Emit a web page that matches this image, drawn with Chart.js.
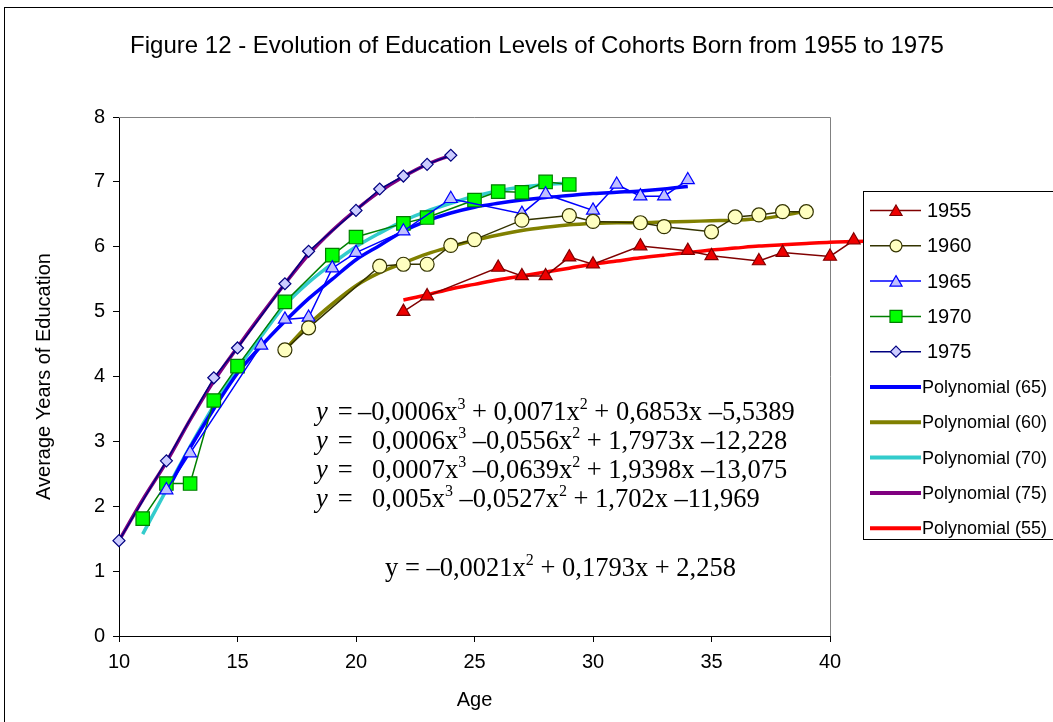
<!DOCTYPE html>
<html><head><meta charset="utf-8">
<script src="https://cdn.jsdelivr.net/npm/chart.js@4.4.0/dist/chart.umd.min.js"></script>
<style>html,body{margin:0;padding:0;background:#fff;}#wrap{width:1053px;height:722px;position:relative;}</style>
</head><body><div id="wrap"><canvas id="c" width="1053" height="722"></canvas></div>
<script>
// ---- Data ----
const title = 'Figure 12 - Evolution of Education Levels of Cohorts Born from 1955 to 1975';
const xTicks = [10, 15, 20, 25, 30, 35, 40];
const yTicks = [0, 1, 2, 3, 4, 5, 6, 7, 8];

const ages1955 = [22, 23, 26, 27, 28, 29, 30, 32, 34, 35, 37, 38, 40, 41];
const vals1955 = [5.00, 5.24, 5.68, 5.55, 5.55, 5.84, 5.73, 6.01, 5.94, 5.86, 5.78, 5.91, 5.85, 6.10];

const ages1960 = [17, 18, 21, 22, 23, 24, 25, 27, 29, 30, 32, 33, 35, 36, 37, 38, 39];
const vals1960 = [4.41, 4.75, 5.70, 5.73, 5.73, 6.02, 6.11, 6.41, 6.48, 6.39, 6.37, 6.31, 6.23, 6.46, 6.49, 6.54, 6.54];

const ages1965 = [12, 13, 16, 17, 18, 19, 20, 22, 24, 27, 28, 30, 31, 32, 33, 34];
const vals1965 = [2.25, 2.82, 4.48, 4.88, 4.91, 5.67, 5.91, 6.24, 6.74, 6.51, 6.81, 6.56, 6.96, 6.78, 6.78, 7.03];

const ages1970 = [11, 12, 13, 14, 15, 17, 19, 20, 22, 23, 25, 26, 27, 28, 29];
const vals1970 = [1.81, 2.35, 2.35, 3.63, 4.16, 5.15, 5.87, 6.15, 6.36, 6.45, 6.72, 6.85, 6.84, 7.00, 6.96];

const ages1975 = [10, 12, 14, 15, 17, 18, 20, 21, 22, 23, 24];
const vals1975 = [1.47, 2.70, 3.98, 4.44, 5.43, 5.93, 6.56, 6.89, 7.09, 7.27, 7.41];

// trend lines
const agesPoly65 = [12, 13, 14, 15, 16, 17, 18, 19, 20, 21, 22, 23, 24, 25, 26, 27, 28, 29, 30, 31, 32, 33, 34];
const valsPoly65 = [2.22, 2.90, 3.50, 4.05, 4.47, 4.85, 5.20, 5.50, 5.80, 6.02, 6.24, 6.40, 6.52, 6.61, 6.67, 6.72, 6.76, 6.79, 6.82, 6.84, 6.86, 6.89, 6.93];

const agesPoly60 = [17, 18, 19, 20, 21, 22, 23, 24, 25, 26, 27, 28, 29, 30, 31, 32, 33, 34, 35, 36, 37, 38, 39];
const valsPoly60 = [4.41, 4.80, 5.12, 5.40, 5.60, 5.75, 5.89, 6.00, 6.10, 6.18, 6.25, 6.30, 6.34, 6.36, 6.37, 6.37, 6.38, 6.39, 6.40, 6.41, 6.43, 6.48, 6.55];

const agesPoly70 = [11, 12, 13, 14, 15, 16, 17, 18, 19, 20, 21, 22, 23, 24, 25, 26, 27, 28, 29];
const valsPoly70 = [1.57, 2.25, 2.92, 3.55, 4.12, 4.62, 5.10, 5.45, 5.74, 6.00, 6.21, 6.40, 6.55, 6.67, 6.78, 6.86, 6.92, 6.96, 6.98];

const agesPoly75 = [10, 11, 12, 13, 14, 15, 16, 17, 18, 19, 20, 21, 22, 23, 24];
const valsPoly75 = [1.47, 2.10, 2.68, 3.33, 3.93, 4.45, 4.95, 5.43, 5.88, 6.25, 6.57, 6.85, 7.08, 7.27, 7.41];

const agesPoly55 = [22, 23, 24, 25, 26, 27, 28, 29, 30, 31, 32, 33, 34, 35, 36, 37, 38, 39, 40, 41, 42];
const valsPoly55 = [5.18, 5.26, 5.35, 5.42, 5.49, 5.55, 5.61, 5.67, 5.73, 5.78, 5.83, 5.87, 5.91, 5.95, 5.98, 6.01, 6.03, 6.05, 6.07, 6.08, 6.09];

const equations = [
  'y = –0,0006x^3 + 0,0071x^2 + 0,6853x –5,5389',
  'y =   0,0006x^3 –0,0556x^2 + 1,7973x –12,228',
  'y =   0,0007x^3 –0,0639x^2 + 1,9398x –13,075',
  'y =   0,005x^3 –0,0527x^2 + 1,702x –11,969'
];
const equation55 = 'y = –0,0021x^2 + 0,1793x + 2,258';

// ---- Build chart ----
const SANS = '"Liberation Sans", Arial, sans-serif';
const SERIF = '"Liberation Serif", "Times New Roman", serif';
const pts = (xs, ys) => xs.map((x, i) => ({x: x, y: ys[i]}));

const series = [
  {label: '1955', xs: ages1955, ys: vals1955, line: '#800000', fill: '#EE0000', border: '#800000', style: 'triangle', r: 7.5},
  {label: '1960', xs: ages1960, ys: vals1960, line: '#333300', fill: '#FFFFC0', border: '#333300', style: 'circle', r: 7},
  {label: '1965', xs: ages1965, ys: vals1965, line: '#0000FF', fill: '#C0C0FF', border: '#0000FF', style: 'triangle', r: 7.5},
  {label: '1970', xs: ages1970, ys: vals1970, line: '#008000', fill: '#00FF00', border: '#008000', style: 'rect', r: 9.5},
  {label: '1975', xs: ages1975, ys: vals1975, line: '#000080', fill: '#CCCCFF', border: '#000080', style: 'rectRot', r: 6}
];
const trends = [
  {label: 'Polynomial (65)', xs: agesPoly65, ys: valsPoly65, color: '#0000FF'},
  {label: 'Polynomial (60)', xs: agesPoly60, ys: valsPoly60, color: '#808000'},
  {label: 'Polynomial (70)', xs: agesPoly70, ys: valsPoly70, color: '#33CCCC'},
  {label: 'Polynomial (75)', xs: agesPoly75, ys: valsPoly75, color: '#800080'},
  {label: 'Polynomial (55)', xs: agesPoly55, ys: valsPoly55, color: '#FF0000'}
];

const datasets = [];
series.forEach(s => datasets.push({
  label: s.label, data: pts(s.xs, s.ys), showLine: true, borderColor: s.line, borderWidth: 1.5,
  pointStyle: s.style, pointRadius: s.r, pointBackgroundColor: s.fill, pointBorderColor: s.border,
  pointBorderWidth: 1.2, tension: 0, clip: false
}));
trends.forEach(t => datasets.push({
  label: t.label, data: pts(t.xs, t.ys), showLine: true, borderColor: t.color, borderWidth: 3.5,
  pointRadius: 0, tension: 0.4, cubicInterpolationMode: 'monotone', clip: false
}));

function marker(ctx, style, r, x, y) {
  ctx.beginPath();
  if (style === 'circle') {
    ctx.arc(x, y, r, 0, Math.PI * 2);
  } else if (style === 'triangle') {
    ctx.moveTo(x, y - r);
    ctx.lineTo(x + r * 0.866, y + r * 0.5);
    ctx.lineTo(x - r * 0.866, y + r * 0.5);
  } else if (style === 'rect') {
    const h = r * Math.SQRT1_2;
    ctx.rect(x - h, y - h, 2 * h, 2 * h);
  } else if (style === 'rectRot') {
    ctx.moveTo(x - r, y); ctx.lineTo(x, y - r); ctx.lineTo(x + r, y); ctx.lineTo(x, y + r);
  }
  ctx.closePath();
  ctx.fill();
  ctx.stroke();
}

function drawEq(ctx, x, baseline, str, italicY, size) {
  let cx = x;
  const norm = size + 'px ' + SERIF;
  const sup = Math.round(size * 0.62) + 'px ' + SERIF;
  let rest = str;
  if (italicY) {
    ctx.font = 'italic ' + norm;
    ctx.fillText('y', cx, baseline);
    cx += ctx.measureText('y').width;
    rest = str.slice(1);
  }
  const parts = rest.split(/\^(\d)/);
  parts.forEach((p, i) => {
    if (i % 2 === 1) {
      ctx.font = sup;
      ctx.fillText(p, cx, baseline - size * 0.42);
      cx += ctx.measureText(p).width;
    } else {
      ctx.font = norm;
      ctx.fillText(p, cx, baseline);
      cx += ctx.measureText(p).width;
    }
  });
}

const decor = {
  id: 'decor',
  beforeDraw(chart) {
    const ctx = chart.ctx;
    ctx.save();
    ctx.fillStyle = '#fff';
    ctx.fillRect(0, 0, chart.width, chart.height);
    ctx.strokeStyle = '#000';
    ctx.lineWidth = 1;
    ctx.strokeRect(4.5, 7.5, 1100, 800);
    ctx.fillStyle = '#000';
    ctx.font = '24px ' + SANS;
    ctx.textAlign = 'center';
    ctx.textBaseline = 'middle';
    ctx.fillText(title, 537, 46);
    ctx.restore();
  },
  beforeDatasetsDraw(chart) {
    const {ctx, chartArea: a} = chart;
    ctx.save();
    ctx.strokeStyle = '#808080';
    ctx.lineWidth = 1;
    ctx.beginPath();
    ctx.moveTo(a.left, a.top + 0.5);
    ctx.lineTo(Math.round(a.right) + 0.5, a.top + 0.5);
    ctx.lineTo(Math.round(a.right) + 0.5, a.bottom);
    ctx.stroke();
    ctx.restore();
  },
  afterDatasetsDraw(chart) {
    const ctx = chart.ctx;
    ctx.save();
    // markers lying outside the plot area (Chart.js skips them), placed via the library's scales
    const xs = chart.scales.x, ys = chart.scales.y;
    series.forEach(s => {
      s.xs.forEach((x, i) => {
        if (x > xs.max || x < xs.min) {
          ctx.fillStyle = s.fill; ctx.strokeStyle = s.border; ctx.lineWidth = 1.2;
          marker(ctx, s.style, s.r, xs.getPixelForValue(x), ys.getPixelForValue(s.ys[i]));
        }
      });
    });

    ctx.fillStyle = '#000';
    ctx.textAlign = 'left';
    ctx.textBaseline = 'alphabetic';
    const bases = [420, 449, 478, 507];
    equations.forEach((e, i) => {
      drawEq(ctx, 316, bases[i], 'y', true, 26.5);
      drawEq(ctx, 331, bases[i], ' =', false, 26.5);
      const body = e.slice(3).trim();
      drawEq(ctx, i === 0 ? 358 : 372, bases[i], body, false, 26.5);
    });
    drawEq(ctx, 385, 576, equation55, false, 26.5);

    // legend
    const lx = 863.5, ly = 191.5, lw = 220, lh = 348;
    ctx.fillStyle = '#fff';
    ctx.fillRect(lx, ly, lw, lh);
    ctx.strokeStyle = '#000';
    ctx.lineWidth = 1;
    ctx.strokeRect(lx, ly, lw, lh);
    const items = [];
    series.forEach(s => items.push({label: s.label, color: s.line, w: 1.5, s: s}));
    trends.forEach(t => items.push({label: t.label, color: t.color, w: 4, s: null}));
    items.forEach((it, i) => {
      const y = 210.5 + i * 35.3;
      ctx.strokeStyle = it.color;
      ctx.lineWidth = it.w;
      ctx.beginPath();
      ctx.moveTo(870, y);
      ctx.lineTo(921, y);
      ctx.stroke();
      if (it.s) {
        ctx.fillStyle = it.s.fill;
        ctx.strokeStyle = it.s.border;
        ctx.lineWidth = 1.2;
        const rr = it.s.style === 'rect' ? 8.5 : (it.s.style === 'rectRot' ? 5.5 : (it.s.style === 'circle' ? 6 : 7));
        marker(ctx, it.s.style, rr, 896, it.s.style === 'triangle' ? y + 1.5 : y);
      }
      ctx.fillStyle = '#000';
      ctx.textBaseline = 'middle';
      if (it.s) {
        ctx.font = '20px ' + SANS;
        ctx.fillText(it.label, 927, y + 1);
      } else {
        ctx.font = '18px ' + SANS;
        ctx.fillText(it.label, 922, y + 1);
      }
    });
    ctx.restore();
  }
};

new Chart(document.getElementById('c'), {
  type: 'scatter',
  data: {datasets: datasets},
  options: {
    responsive: false,
    animation: false,
    events: [],
    layout: {padding: {left: 0, top: 117, right: 223, bottom: 0}},
    plugins: {legend: {display: false}, title: {display: false}, tooltip: {enabled: false}},
    scales: {
      x: {
        type: 'linear', bounds: 'data',
        afterDataLimits(s) { s.min = 10; s.max = 40; },
        afterBuildTicks(s) { s.ticks = xTicks.map(v => ({value: v})); },
        ticks: {color: '#000', font: {family: SANS, size: 20}, padding: 8, maxRotation: 0},
        grid: {drawOnChartArea: false, drawTicks: true, tickLength: 6, color: '#000'},
        border: {display: true, color: '#000', width: 1},
        title: {display: true, text: 'Age', color: '#000', font: {family: SANS, size: 20}, padding: {top: 0, bottom: 10}},
        afterFit(s) { s.height = 86; }
      },
      y: {
        type: 'linear', min: 0, max: 8,
        afterBuildTicks(s) { s.ticks = yTicks.map(v => ({value: v})); },
        ticks: {color: '#000', font: {family: SANS, size: 20}, padding: 8},
        grid: {drawOnChartArea: false, drawTicks: true, tickLength: 6, color: '#000'},
        border: {display: true, color: '#000', width: 1},
        title: {display: true, text: 'Average Years of Education', color: '#000', font: {family: SANS, size: 20}, padding: {top: 32, bottom: 0}},
        afterFit(s) { s.width = 119; }
      }
    }
  },
  plugins: [decor]
});
</script>
</body></html>
